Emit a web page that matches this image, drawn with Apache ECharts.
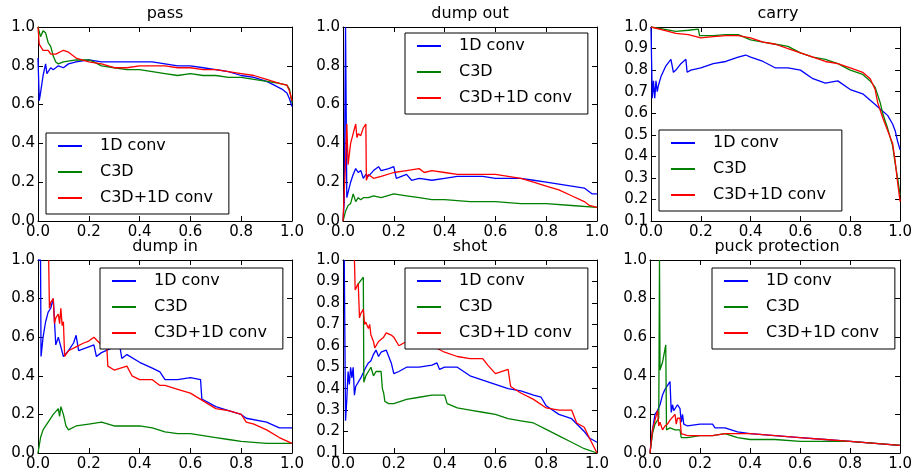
<!DOCTYPE html>
<html>
<head>
<meta charset="utf-8">
<script src="https://cdn.jsdelivr.net/npm/echarts@6/dist/echarts.min.js"></script>
<style>
  html, body { margin: 0; padding: 0; background: #fff; }
  #mycharts { width: 915px; height: 472px; }
</style>
</head>
<body>
<div id="mycharts"></div>
<script>
// precision / recall pairs, [recall, precision]
const seriesNames = ['1D conv', 'C3D', 'C3D+1D conv'];
const seriesColors = ['#0000ff', '#008000', '#ff0000'];
const titles = ['pass', 'dump out', 'carry', 'dump in', 'shot', 'puck protection'];

const passBlue = [[0,0.84],[0.005,0.62],[0.01,0.66],[0.02,0.75],[0.03,0.81],[0.035,0.76],[0.05,0.79],[0.06,0.78],[0.08,0.8],[0.1,0.79],[0.12,0.81],[0.15,0.82],[0.2,0.83],[0.25,0.82],[0.3,0.82],[0.35,0.82],[0.4,0.82],[0.45,0.82],[0.5,0.81],[0.55,0.8],[0.6,0.8],[0.65,0.79],[0.7,0.78],[0.75,0.77],[0.8,0.75],[0.85,0.74],[0.9,0.72],[0.93,0.7],[0.96,0.68],[0.98,0.66],[0.99,0.63],[1,0.59]];
const passGreen = [[0,1],[0.01,0.95],[0.02,0.98],[0.03,0.97],[0.04,0.92],[0.05,0.9],[0.06,0.85],[0.07,0.82],[0.08,0.81],[0.1,0.82],[0.15,0.83],[0.2,0.83],[0.22,0.82],[0.25,0.8],[0.3,0.79],[0.35,0.78],[0.4,0.78],[0.45,0.77],[0.5,0.76],[0.55,0.75],[0.6,0.76],[0.65,0.75],[0.7,0.75],[0.75,0.74],[0.8,0.74],[0.85,0.73],[0.9,0.72],[0.95,0.71],[0.98,0.7],[0.99,0.68],[1,0.61]];
const passRed = [[0,1],[0.005,0.91],[0.01,0.92],[0.02,0.88],[0.04,0.88],[0.05,0.86],[0.07,0.86],[0.1,0.88],[0.12,0.87],[0.15,0.84],[0.2,0.82],[0.25,0.81],[0.3,0.79],[0.35,0.79],[0.4,0.8],[0.45,0.8],[0.5,0.8],[0.55,0.79],[0.6,0.79],[0.65,0.78],[0.7,0.78],[0.75,0.77],[0.8,0.76],[0.85,0.75],[0.9,0.73],[0.95,0.71],[0.98,0.7],[0.99,0.67],[1,0.62]];

const dumpOutBlue = [[0,0],[0.005,0.1],[0.01,1],[0.012,1],[0.015,0.12],[0.03,0.2],[0.04,0.24],[0.05,0.27],[0.06,0.25],[0.07,0.26],[0.08,0.22],[0.09,0.24],[0.1,0.23],[0.12,0.26],[0.14,0.28],[0.15,0.26],[0.18,0.27],[0.2,0.28],[0.21,0.22],[0.25,0.24],[0.27,0.21],[0.3,0.22],[0.35,0.21],[0.4,0.22],[0.45,0.23],[0.5,0.23],[0.55,0.23],[0.6,0.22],[0.65,0.22],[0.7,0.22],[0.75,0.21],[0.8,0.2],[0.85,0.19],[0.9,0.18],[0.95,0.17],[0.98,0.14],[1,0.14]];
const dumpOutGreen = [[0,0],[0.01,0.05],[0.02,0.08],[0.03,0.09],[0.04,0.14],[0.05,0.1],[0.06,0.12],[0.07,0.11],[0.08,0.12],[0.1,0.12],[0.12,0.13],[0.15,0.12],[0.2,0.14],[0.25,0.13],[0.3,0.12],[0.35,0.11],[0.4,0.11],[0.5,0.1],[0.6,0.1],[0.7,0.09],[0.8,0.09],[0.9,0.08],[1,0.07]];
const dumpOutRed = [[0,0],[0.01,0.3],[0.015,0.5],[0.02,0.29],[0.03,0.4],[0.04,0.45],[0.05,0.5],[0.055,0.43],[0.06,0.45],[0.07,0.44],[0.08,0.48],[0.09,0.5],[0.092,0.21],[0.1,0.24],[0.12,0.22],[0.15,0.23],[0.2,0.25],[0.25,0.26],[0.3,0.27],[0.32,0.25],[0.35,0.26],[0.4,0.25],[0.45,0.24],[0.5,0.24],[0.55,0.24],[0.6,0.24],[0.65,0.23],[0.7,0.22],[0.75,0.2],[0.8,0.18],[0.85,0.16],[0.9,0.13],[0.95,0.1],[0.97,0.08],[1,0.07]];

const carryBlue = [[0,1],[0.005,0.67],[0.01,0.75],[0.015,0.67],[0.02,0.75],[0.025,0.7],[0.03,0.73],[0.04,0.77],[0.06,0.82],[0.08,0.85],[0.09,0.79],[0.1,0.8],[0.12,0.83],[0.14,0.85],[0.145,0.79],[0.16,0.8],[0.2,0.81],[0.25,0.83],[0.3,0.84],[0.35,0.86],[0.38,0.87],[0.4,0.86],[0.45,0.84],[0.5,0.81],[0.55,0.81],[0.6,0.8],[0.65,0.76],[0.7,0.74],[0.75,0.75],[0.8,0.71],[0.85,0.69],[0.9,0.64],[0.92,0.62],[0.95,0.59],[0.97,0.55],[0.98,0.52],[0.99,0.47],[1,0.43]];
const carryGreen = [[0,1],[0.05,0.99],[0.1,0.98],[0.15,0.985],[0.19,0.99],[0.195,0.96],[0.25,0.96],[0.3,0.965],[0.35,0.965],[0.4,0.94],[0.45,0.93],[0.5,0.92],[0.55,0.91],[0.6,0.88],[0.65,0.86],[0.7,0.85],[0.75,0.83],[0.8,0.8],[0.85,0.78],[0.88,0.75],[0.9,0.72],[0.92,0.65],[0.93,0.6],[0.95,0.53],[0.97,0.45],[0.98,0.37],[0.99,0.3],[1,0.22]];
const carryRed = [[0,1],[0.05,0.985],[0.1,0.97],[0.15,0.965],[0.2,0.95],[0.25,0.955],[0.3,0.96],[0.35,0.96],[0.4,0.95],[0.45,0.93],[0.5,0.92],[0.55,0.9],[0.6,0.88],[0.65,0.86],[0.7,0.84],[0.75,0.83],[0.8,0.81],[0.85,0.79],[0.88,0.76],[0.9,0.71],[0.91,0.65],[0.93,0.58],[0.95,0.52],[0.97,0.46],[0.98,0.38],[0.99,0.28],[1,0.19]];

const dumpInBlue = [[0,1],[0.01,1],[0.012,0.5],[0.02,0.6],[0.03,0.68],[0.04,0.73],[0.05,0.75],[0.06,0.8],[0.07,0.56],[0.08,0.6],[0.09,0.55],[0.1,0.5],[0.12,0.53],[0.14,0.57],[0.15,0.61],[0.16,0.53],[0.2,0.55],[0.22,0.56],[0.23,0.5],[0.25,0.52],[0.3,0.55],[0.32,0.57],[0.33,0.49],[0.35,0.51],[0.4,0.47],[0.45,0.44],[0.48,0.42],[0.5,0.38],[0.55,0.38],[0.6,0.39],[0.64,0.38],[0.645,0.28],[0.7,0.24],[0.75,0.22],[0.8,0.2],[0.82,0.18],[0.9,0.16],[0.95,0.13],[1,0.13]];
const dumpInGreen = [[0,0],[0.01,0.08],[0.02,0.12],[0.03,0.14],[0.04,0.16],[0.06,0.2],[0.08,0.23],[0.085,0.19],[0.09,0.24],[0.1,0.2],[0.11,0.14],[0.12,0.12],[0.15,0.14],[0.2,0.15],[0.25,0.16],[0.3,0.14],[0.35,0.14],[0.4,0.14],[0.45,0.13],[0.5,0.11],[0.55,0.1],[0.6,0.1],[0.65,0.09],[0.7,0.08],[0.75,0.07],[0.8,0.06],[0.9,0.05],[1,0.05]];
const dumpInRed = [[0.042,1],[0.045,0.75],[0.05,0.78],[0.06,0.8],[0.065,0.67],[0.07,0.7],[0.08,0.72],[0.085,0.67],[0.09,0.75],[0.095,0.66],[0.1,0.68],[0.105,0.5],[0.12,0.53],[0.15,0.55],[0.18,0.57],[0.2,0.58],[0.22,0.6],[0.25,0.56],[0.27,0.57],[0.275,0.45],[0.3,0.43],[0.35,0.45],[0.37,0.4],[0.4,0.38],[0.45,0.38],[0.48,0.35],[0.5,0.35],[0.55,0.33],[0.6,0.31],[0.65,0.27],[0.7,0.23],[0.75,0.22],[0.8,0.2],[0.82,0.16],[0.85,0.15],[0.9,0.12],[0.95,0.08],[1,0.05]];

const shotBlue = [[0.005,1],[0.01,0.25],[0.015,0.35],[0.02,0.48],[0.025,0.42],[0.03,0.5],[0.035,0.45],[0.04,0.5],[0.045,0.37],[0.05,0.41],[0.07,0.45],[0.09,0.5],[0.1,0.52],[0.11,0.53],[0.12,0.56],[0.13,0.58],[0.14,0.55],[0.15,0.57],[0.17,0.58],[0.18,0.55],[0.19,0.52],[0.2,0.47],[0.22,0.48],[0.25,0.5],[0.3,0.5],[0.35,0.51],[0.37,0.52],[0.38,0.49],[0.4,0.5],[0.45,0.5],[0.5,0.46],[0.55,0.44],[0.6,0.42],[0.65,0.4],[0.7,0.39],[0.75,0.37],[0.78,0.36],[0.8,0.32],[0.85,0.28],[0.9,0.26],[0.95,0.2],[0.97,0.17],[1,0.15]];
const shotGreen = [[0.055,0.88],[0.08,0.92],[0.082,0.43],[0.09,0.46],[0.1,0.48],[0.11,0.5],[0.12,0.46],[0.13,0.48],[0.15,0.48],[0.155,0.4],[0.16,0.38],[0.165,0.34],[0.18,0.33],[0.2,0.33],[0.25,0.35],[0.3,0.36],[0.35,0.37],[0.4,0.37],[0.41,0.33],[0.45,0.31],[0.5,0.3],[0.55,0.29],[0.6,0.28],[0.65,0.26],[0.7,0.25],[0.75,0.24],[0.8,0.21],[0.85,0.18],[0.9,0.15],[0.95,0.12],[1,0.1]];
const shotRed = [[0.045,1],[0.048,0.86],[0.06,0.89],[0.065,0.73],[0.07,0.75],[0.08,0.77],[0.085,0.7],[0.09,0.71],[0.1,0.68],[0.105,0.7],[0.11,0.65],[0.12,0.62],[0.125,0.59],[0.14,0.62],[0.16,0.64],[0.17,0.66],[0.19,0.65],[0.2,0.64],[0.22,0.6],[0.25,0.62],[0.3,0.63],[0.35,0.6],[0.4,0.57],[0.45,0.55],[0.5,0.54],[0.55,0.54],[0.57,0.51],[0.6,0.47],[0.65,0.49],[0.66,0.41],[0.7,0.38],[0.75,0.35],[0.8,0.31],[0.85,0.3],[0.9,0.3],[0.92,0.24],[0.95,0.22],[0.97,0.17],[1,0.1]];

const puckBlue = [[0,0],[0.01,0.12],[0.02,0.2],[0.03,0.22],[0.04,0.25],[0.05,0.3],[0.06,0.33],[0.08,0.37],[0.085,0.21],[0.09,0.25],[0.095,0.22],[0.1,0.22],[0.11,0.25],[0.12,0.23],[0.125,0.16],[0.13,0.2],[0.135,0.15],[0.15,0.14],[0.2,0.15],[0.25,0.15],[0.26,0.13],[0.3,0.13],[0.35,0.11],[0.4,0.1],[0.5,0.09],[0.6,0.08],[0.7,0.07],[0.8,0.06],[0.9,0.05],[1,0.04]];
const puckGreen = [[0,0],[0.01,0.1],[0.02,0.15],[0.035,0.18],[0.038,1],[0.04,0.43],[0.05,0.47],[0.063,0.56],[0.066,0.12],[0.08,0.13],[0.1,0.12],[0.12,0.12],[0.125,0.08],[0.15,0.08],[0.2,0.09],[0.25,0.09],[0.3,0.1],[0.35,0.08],[0.4,0.07],[0.5,0.07],[0.6,0.06],[0.7,0.06],[0.8,0.06],[0.9,0.05],[1,0.04]];
const puckRed = [[0,0],[0.01,0.12],[0.02,0.17],[0.03,0.22],[0.035,0.14],[0.04,0.16],[0.05,0.12],[0.06,0.14],[0.07,0.15],[0.08,0.17],[0.1,0.2],[0.105,0.15],[0.11,0.18],[0.12,0.18],[0.125,0.1],[0.15,0.09],[0.2,0.09],[0.25,0.09],[0.3,0.1],[0.35,0.1],[0.4,0.1],[0.5,0.09],[0.6,0.08],[0.7,0.07],[0.8,0.06],[0.9,0.05],[1,0.04]];

const panelData = [
    [passBlue, passGreen, passRed],
    [dumpOutBlue, dumpOutGreen, dumpOutRed],
    [carryBlue, carryGreen, carryRed],
    [dumpInBlue, dumpInGreen, dumpInRed],
    [shotBlue, shotGreen, shotRed],
    [puckBlue, puckGreen, puckRed]
];
const yMins = [0, 0, 0.1, 0, 0.1, 0];
const ySteps = [0.2, 0.2, 0.1, 0.2, 0.1, 0.2];

// layout
const grids = [
    {left: 38, top: 27, width: 254, height: 194},
    {left: 343, top: 27, width: 254, height: 194},
    {left: 651, top: 27, width: 254, height: 194},
    {left: 38, top: 260, width: 254, height: 195},
    {left: 343, top: 260, width: 254, height: 195},
    {left: 650, top: 260, width: 254, height: 195}
];
const legendPos = [
    {left: 46, top: 133},
    {left: 405, top: 33},
    {left: 659, top: 130},
    {left: 100, top: 268},
    {left: 405, top: 268},
    {left: 712, top: 268}
];

const FONT = 'DejaVu Sans';
const fmt = v => v.toFixed(1);

const xAxis = [], yAxis = [], series = [], title = [], legend = [];

grids.forEach((g, i) => {
    ['bottom', 'top'].forEach(pos => {
        xAxis.push({
            type: 'value', gridIndex: i, position: pos,
            min: 0, max: 1, interval: 0.2,
            splitLine: {show: false},
            axisLine: {show: true, onZero: false, lineStyle: {color: '#000', width: 1}},
            axisTick: {show: true, inside: true, length: 5, lineStyle: {color: '#000'}},
            axisLabel: {show: pos === 'bottom', formatter: fmt, color: '#000',
                fontFamily: FONT, fontSize: 15, margin: 4}
        });
    });
    ['left', 'right'].forEach(pos => {
        yAxis.push({
            type: 'value', gridIndex: i, position: pos,
            min: yMins[i], max: 1, interval: ySteps[i],
            splitLine: {show: false},
            axisLine: {show: true, onZero: false, lineStyle: {color: '#000', width: 1}},
            axisTick: {show: true, inside: true, length: 5, lineStyle: {color: '#000'}},
            axisLabel: {show: pos === 'left', formatter: fmt, color: '#000',
                fontFamily: FONT, fontSize: 15, margin: 3}
        });
    });
    title.push({
        text: titles[i],
        left: g.left + g.width / 2,
        top: i < 3 ? 6 : 239,
        textAlign: 'center',
        padding: 0,
        textStyle: {fontFamily: FONT, fontSize: 16, fontWeight: 'normal', color: '#000'}
    });
    legend.push({
        data: seriesNames,
        orient: 'vertical',
        left: legendPos[i].left,
        top: legendPos[i].top,
        icon: 'rect',
        itemWidth: 24,
        itemHeight: 2,
        itemGap: 10,
        padding: [5, 16, 8, 12],
        borderColor: '#000',
        borderWidth: 1,
        borderRadius: 0,
        backgroundColor: '#fff',
        textStyle: {fontFamily: FONT, fontSize: 16, lineHeight: 16, color: '#000', padding: [0, 0, 0, 13]}
    });
    panelData[i].forEach((d, k) => {
        series.push({
            name: seriesNames[k],
            type: 'line',
            xAxisIndex: 2 * i,
            yAxisIndex: 2 * i,
            data: d,
            color: seriesColors[k],
            symbol: 'none',
            showSymbol: false,
            clip: true,
            lineStyle: {width: 1.3, color: seriesColors[k]},
            z: 2
        });
    });
});

const chart = echarts.init(document.getElementById('mycharts'));
chart.setOption({
    animation: false,
    backgroundColor: '#fff',
    grid: grids,
    title: title,
    legend: legend,
    xAxis: xAxis,
    yAxis: yAxis,
    series: series
});
</script>
</body>
</html>
